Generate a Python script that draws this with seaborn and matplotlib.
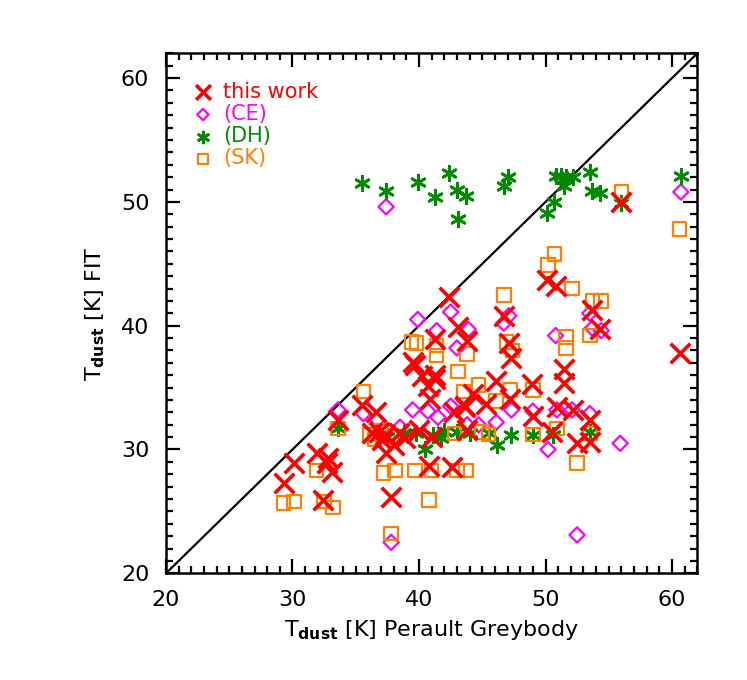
import numpy as np
import pandas as pd
import matplotlib
matplotlib.use('Agg')
import matplotlib.pyplot as plt
import seaborn as sns
from matplotlib.ticker import MultipleLocator

# --- datos ---
# this work (cruces rojas)
tw_x = [29.3, 30.1, 31.9, 32.8, 32.7, 33.1, 32.4, 33.6, 35.5, 36.6, 36.3, 36.8, 37.3, 37.1,
        37.4, 37.8, 38.0, 38.4, 38.9, 40.0, 41.0, 40.8, 42.6, 40.9, 40.7, 42.8, 43.6, 41.3,
        39.5, 39.7, 40.2, 41.3, 41.3, 42.4, 43.1, 43.8, 46.7, 47.1, 47.3, 50.1, 50.8, 53.7,
        54.3, 56.0, 60.6, 51.5, 51.5, 48.9, 46.1, 47.2, 45.3, 44.3, 43.6, 43.8, 49.0, 50.9,
        52.2, 53.5, 50.5, 52.5, 53.5]
tw_y = [27.3, 28.9, 29.7, 29.3, 28.9, 28.2, 25.9, 32.4, 33.6, 33.0, 31.3, 31.4, 31.2, 30.8,
        29.7, 26.2, 30.4, 31.3, 30.9, 31.6, 31.0, 28.7, 28.6, 34.1, 35.1, 33.0, 33.5, 36.0,
        37.1, 36.8, 35.9, 35.7, 38.9, 42.3, 39.9, 38.8, 40.8, 38.6, 37.4, 43.7, 43.2, 41.3,
        39.7, 50.0, 37.8, 36.5, 35.4, 35.3, 35.5, 34.1, 33.7, 34.5, 33.4, 31.6, 32.7, 33.4,
        33.2, 32.4, 31.4, 30.5, 30.6]

# (CE) diamantes
ce_x = [37.4, 60.7, 39.9, 42.5, 41.4, 43.0, 43.9, 47.1, 46.7, 50.8, 53.5, 53.7, 54.4, 33.6,
        35.6, 36.7, 39.5, 40.7, 41.5, 37.8, 47.3, 46.1, 49.0, 50.9, 52.1, 53.5, 50.2, 55.9,
        52.5, 44.7, 42.5, 38.5, 43.8]
ce_y = [49.6, 50.8, 40.5, 41.1, 39.6, 38.2, 39.7, 40.8, 40.2, 39.2, 41.0, 39.8, 39.6, 33.2,
        32.9, 32.4, 33.2, 33.1, 32.6, 22.5, 33.2, 32.2, 33.1, 33.2, 33.2, 32.9, 30.0, 30.5,
        23.1, 32.0, 33.5, 31.8, 32.0]

# (DH) asteriscos
dh_x = [35.5, 37.4, 39.9, 42.4, 41.3, 43.0, 43.7, 43.1, 46.7, 47.0, 50.1, 50.7, 50.8, 51.2,
        51.5, 51.6, 52.2, 53.5, 53.7, 54.3, 56.0, 60.7,
        33.6, 40.5, 41.1, 41.7, 39.8, 38.8, 43.0, 47.3, 46.2, 49.0, 50.6, 53.5, 44.0, 36.8,
        37.5, 42.0, 45.5]
dh_y = [51.5, 50.9, 51.6, 52.3, 50.4, 51.0, 50.5, 48.6, 51.3, 52.0, 49.1, 50.0, 52.1, 52.1,
        51.3, 52.0, 52.0, 52.4, 50.9, 50.7, 49.9, 52.1,
        31.7, 30.0, 31.2, 30.9, 31.3, 31.3, 31.4, 31.2, 30.4, 31.2, 31.2, 31.4, 31.3, 31.2,
        31.0, 31.5, 31.3]

# (SK) cuadrados
sk_x = [56.0, 60.6, 50.7, 50.2, 46.7, 52.1, 53.7, 54.4,
        39.4, 39.8, 41.4, 43.8, 53.5, 51.6, 51.6, 46.9, 47.4, 43.1, 41.4,
        33.6, 35.6, 31.9, 29.3, 30.1, 33.2, 37.2, 38.1, 39.7, 41.0, 43.0, 40.8, 37.8, 42.8,
        43.5, 36.1, 44.7, 47.2, 49.0, 46.1, 45.0, 45.5, 49.0, 50.9, 53.5, 52.5, 43.7, 37.0,
        38.0, 36.5, 32.5]
sk_y = [50.8, 47.8, 45.8, 44.9, 42.5, 43.0, 42.0, 42.0,
        38.7, 38.6, 37.6, 37.7, 39.2, 39.1, 38.2, 38.7, 38.0, 36.3, 38.4,
        31.7, 34.7, 28.3, 25.7, 25.8, 25.3, 28.1, 28.3, 28.3, 28.3, 28.3, 25.9, 23.2, 31.3,
        34.7, 31.2, 35.2, 34.8, 34.8, 33.9, 31.4, 31.2, 31.2, 31.7, 31.3, 28.9, 28.3, 31.5,
        31.0, 30.8, 25.8]

rojo = '#ff0000'
magenta = '#ff00ff'
verde = '#008a00'
naranja = '#ff8000'

sns.set_theme(style='ticks')
plt.rcParams['font.family'] = ['DejaVu Sans']
plt.rcParams['mathtext.default'] = 'regular'

fig = plt.figure(figsize=(7.47, 6.80), dpi=100)
ax = fig.add_axes([0.2222, 0.1569, 0.7113, 0.7647])

sns.scatterplot(x=ce_x, y=ce_y, ax=ax, marker='D', s=60, facecolor='none',
                edgecolor=magenta, linewidth=1.6, label='(CE)', zorder=3)
sns.scatterplot(x=dh_x, y=dh_y, ax=ax, marker=(6, 2, 0), s=110, color=verde,
                linewidth=2.0, label='(DH)', zorder=3)
sns.scatterplot(x=sk_x, y=sk_y, ax=ax, marker='s', s=95, facecolor='none',
                edgecolor=naranja, linewidth=1.6, label='(SK)', zorder=4)
sns.scatterplot(x=tw_x, y=tw_y, ax=ax, marker='x', s=200, color=rojo,
                linewidth=2.6, label='this work', zorder=5)

lim = (20, 62)
ax.plot(lim, lim, color='black', lw=1.6, zorder=2)
ax.set_xlim(lim)
ax.set_ylim(lim)

ax.xaxis.set_major_locator(MultipleLocator(10))
ax.yaxis.set_major_locator(MultipleLocator(10))
ax.xaxis.set_minor_locator(MultipleLocator(1))
ax.yaxis.set_minor_locator(MultipleLocator(1))
ax.tick_params(which='both', direction='in', top=True, right=True, width=1.6, colors='black')
ax.tick_params(which='major', length=10, labelsize=16, pad=12)
ax.tick_params(which='minor', length=5)
for sp in ax.spines.values():
    sp.set_linewidth(1.8)
    sp.set_color('black')

ax.set_xlabel(r'T$_{\mathbf{dust}}$ [K] Perault Greybody', fontsize=16, labelpad=6, color='black')
ax.set_ylabel(r'T$_{\mathbf{dust}}$ [K] FIT', fontsize=16, labelpad=10, color='black')

# leyenda en orden: this work, CE, DH, SK
handles, labels = ax.get_legend_handles_labels()
orden = [labels.index(l) for l in ['this work', '(CE)', '(DH)', '(SK)']]
leg = ax.legend([handles[i] for i in orden], [labels[i] for i in orden],
                loc='upper left', bbox_to_anchor=(0.05, 0.945), frameon=False,
                borderaxespad=0, borderpad=0, handlelength=1.0,
                handletextpad=0.45, labelspacing=0.1,
                fontsize=15, markerscale=0.75)
colores = [rojo, magenta, verde, naranja]
for txt, c in zip(leg.get_texts(), colores):
    txt.set_color(c)

fig.savefig('out.png', dpi=100)
